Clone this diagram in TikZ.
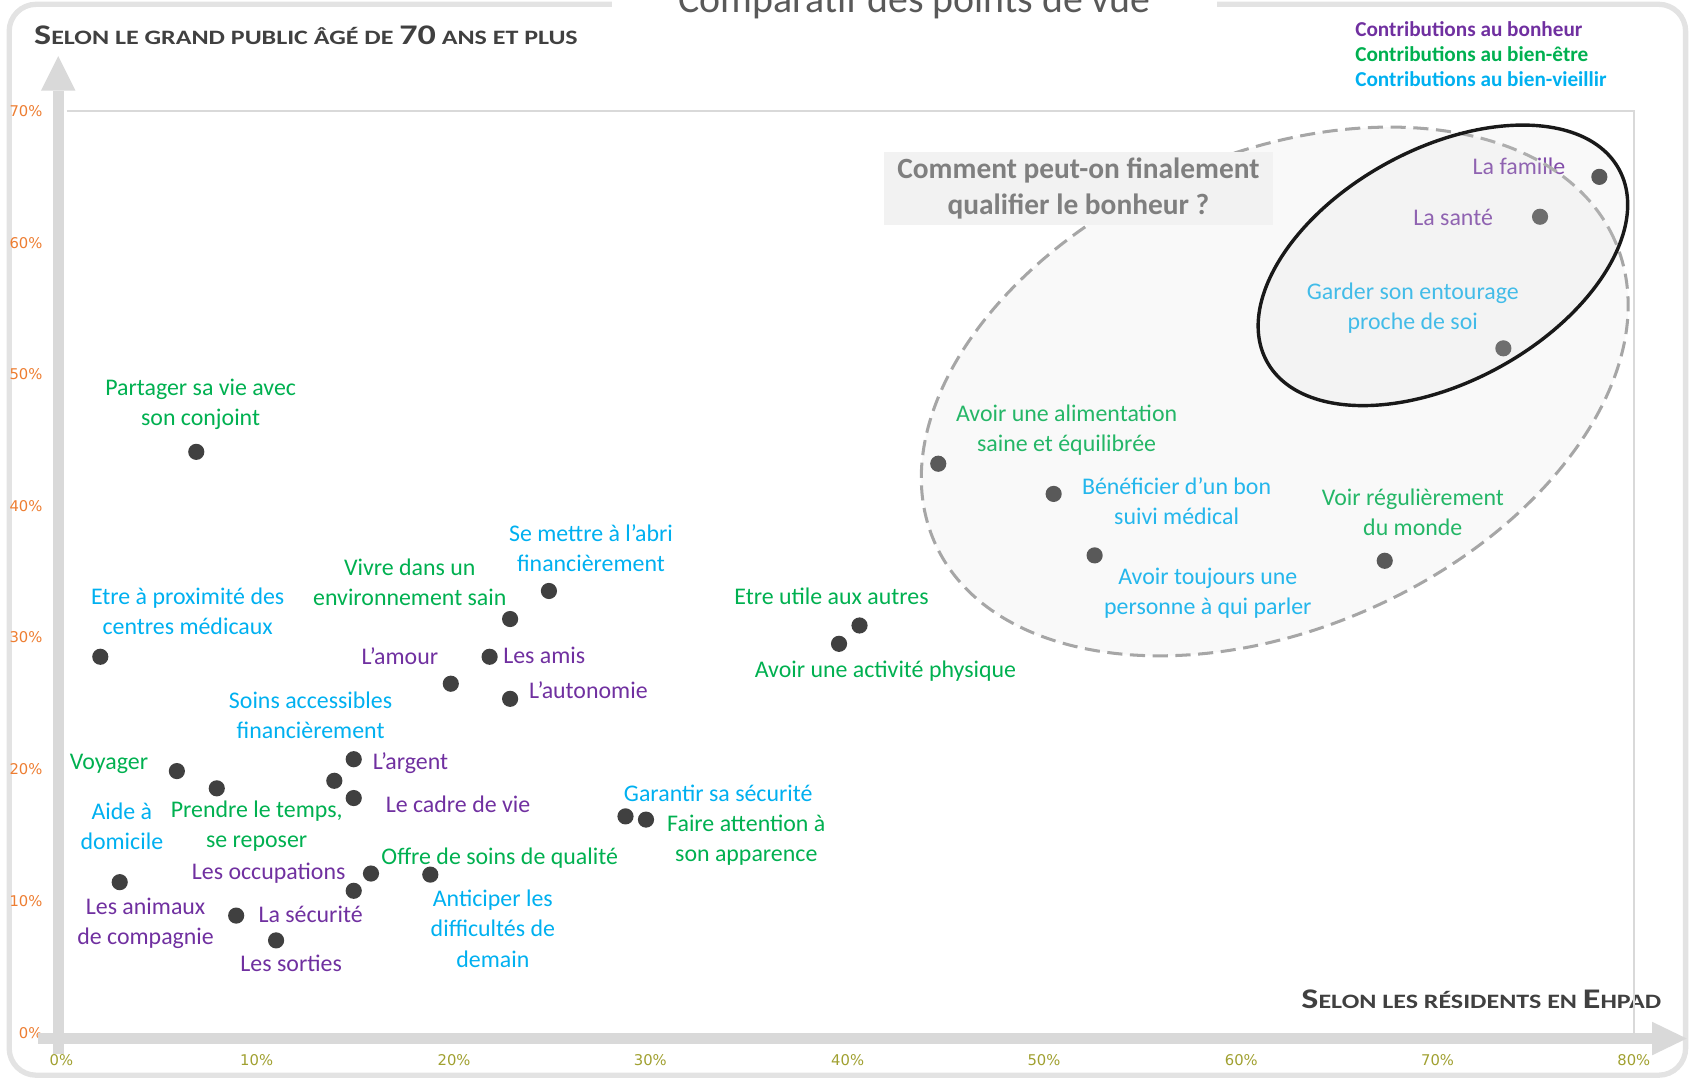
\documentclass[tikz,border=0pt]{standalone}
\usepackage{fontspec}
\setmainfont{Carlito}
\newfontfamily\axisfont{Carlito}[FakeStretch=1.27]
\newfontfamily\tickfont{DejaVu Sans}
\usetikzlibrary{arrows.meta}
\definecolor{bonheurc}{HTML}{7030A0}
\definecolor{bienetrec}{HTML}{00B050}
\definecolor{vieilc}{HTML}{00B0F0}
\definecolor{dotgray}{HTML}{404040}
\definecolor{framegray}{HTML}{E3E3E3}
\definecolor{axisgray}{HTML}{D9D9D9}
\definecolor{titlegray}{HTML}{595959}
\definecolor{boxgray}{HTML}{F2F2F2}
\definecolor{boxtext}{HTML}{7F7F7F}
\definecolor{ytickc}{HTML}{ED7D31}
\definecolor{xtickc}{HTML}{A0A030}
\newcommand{\capl}[1]{{\fontsize{7.5}{8}\selectfont #1}}

\begin{document}
\begin{tikzpicture}[
  pnt/.style={circle, fill=dotgray, inner sep=0pt, minimum size=0.15cm},
  lab/.style={inner sep=0pt, align=center, font=\fontsize{6.3}{8}\selectfont},
  bonh/.style={lab, text=bonheurc},
  bet/.style={lab, text=bienetrec},
  bvi/.style={lab, text=vieilc},
  ytk/.style={anchor=east, inner sep=0pt, text=ytickc, font=\tickfont\fontsize{3.9}{4}\selectfont},
  xtk/.style={inner sep=0pt, text=xtickc, font=\tickfont\fontsize{3.9}{4}\selectfont},
  axtitle/.style={inner sep=0pt, text=dotgray, font=\axisfont\bfseries\fontsize{5.4}{6}\selectfont},
  legd/.style={anchor=base west, inner sep=0pt, font=\bfseries\fontsize{5.6}{6.4}\selectfont}
]
\clip (0,0) rectangle (15.68,10.02);

\draw[framegray, line width=1.4pt, rounded corners=0.25cm] (0.085,0.05) rectangle (15.63,9.98);
\node[fill=white, minimum width=5.61cm, inner sep=1pt, anchor=base, text=titlegray, font=\fontsize{10.5}{12}\selectfont] (title) at (8.48,9.90) {Comparatif des points de vue};

\node[axtitle, anchor=base west] (ytitle) at (0.31,9.61) {\capl{S}ELON LE GRAND PUBLIC ÂGÉ DE \capl{70} ANS ET PLUS};
\node[axtitle, anchor=base east] (xtitle) at (15.41,0.67) {\capl{S}ELON LES RÉSIDENTS EN \capl{E}HPAD};

\node[legd, text=bonheurc] (leg1) at (12.56,9.68) {Contributions au bonheur};
\node[legd, text=bienetrec] (leg2) at (12.56,9.45) {Contributions au bien-être};
\node[legd, text=vieilc] (leg3) at (12.56,9.22) {Contributions au bien-vieillir};

\coordinate (ptl) at (0.62,8.99);
\coordinate (ptr) at (15.15,8.99);
\coordinate (pbr) at (15.15,0.39);
\draw[axisgray, line width=0.5pt] (ptl) -- (ptr) -- (pbr);

\node[ytk] (y70) at (0.40,8.99) {70\%};
\node[ytk] (y60) at (0.40,7.77) {60\%};
\node[ytk] (y50) at (0.40,6.55) {50\%};
\node[ytk] (y40) at (0.40,5.33) {40\%};
\node[ytk] (y30) at (0.40,4.11) {30\%};
\node[ytk] (y20) at (0.40,2.89) {20\%};
\node[ytk] (y10) at (0.40,1.66) {10\%};
\node[ytk] (y0) at (0.40,0.44) {0\%};

\node[xtk] (x0) at (0.57,0.19) {0\%};
\node[xtk] (x10) at (2.38,0.19) {10\%};
\node[xtk] (x20) at (4.21,0.19) {20\%};
\node[xtk] (x30) at (6.03,0.19) {30\%};
\node[xtk] (x40) at (7.86,0.19) {40\%};
\node[xtk] (x50) at (9.68,0.19) {50\%};
\node[xtk] (x60) at (11.51,0.19) {60\%};
\node[xtk] (x70) at (13.33,0.19) {70\%};
\node[xtk] (x80) at (15.15,0.19) {80\%};

\coordinate (ybot) at (0.54,0.25);
\coordinate (ytop) at (0.54,9.50);
\coordinate (xleft) at (0.35,0.39);
\coordinate (xright) at (15.64,0.39);
\draw[axisgray, line width=1mm, -{Triangle[length=3.2mm, width=3.2mm, line width=0pt]}] (ybot) -- (ytop);
\draw[axisgray, line width=1mm, -{Triangle[length=3.2mm, width=3.1mm, line width=0pt]}] (xleft) -- (xright);

\node[pnt] (famille) at (14.83,8.38) {};
\node[bonh, anchor=east] (lfamille) at (14.52,8.48) {La famille};
\node[pnt] (sante) at (14.28,8.01) {};
\node[bonh, anchor=east] (lsante) at (13.85,8.00) {La santé};
\node[pnt] (amour) at (4.18,3.68) {};
\node[bonh, anchor=east] (lamour) at (4.07,3.94) {L’amour};
\node[pnt] (amis) at (4.54,3.93) {};
\node[bonh, anchor=west] (lamis) at (4.66,3.94) {Les amis};
\node[pnt] (autonomie) at (4.73,3.54) {};
\node[bonh, anchor=west] (lautonomie) at (4.90,3.62) {L’autonomie};
\node[pnt] (argent) at (3.28,2.98) {};
\node[bonh, anchor=west] (largent) at (3.45,2.94) {L’argent};
\node[pnt] (cadre) at (3.28,2.62) {};
\node[bonh, anchor=west] (lcadre) at (3.57,2.56) {Le cadre de vie};
\node[pnt] (occup) at (3.28,1.76) {};
\node[bonh, anchor=east] (loccup) at (3.21,1.92) {Les occupations};
\node[bonh] (lanimaux) at (1.35,1.46) {Les animaux\\de compagnie};
\node[pnt] (securite) at (2.19,1.53) {};
\node[bonh, anchor=west] (lsecurite) at (2.39,1.54) {La sécurité};
\node[pnt] (sorties) at (2.56,1.30) {};
\node[bonh] (lsorties) at (2.70,1.09) {Les sorties};

\node[pnt] (conjoint) at (1.82,5.83) {};
\node[bet] (lconjoint) at (1.86,6.27) {Partager sa vie avec\\son conjoint};
\node[pnt] (envsain) at (4.73,4.28) {};
\node[bet] (lenvsain) at (3.80,4.62) {Vivre dans un\\environnement sain};
\node[pnt] (utile) at (7.97,4.22) {};
\node[bet] (lutile) at (7.71,4.49) {Etre utile aux autres};
\node[pnt] (activite) at (7.78,4.05) {};
\node[bet] (lactivite) at (8.21,3.80) {Avoir une activité physique};
\node[pnt] (alim) at (8.70,5.72) {};
\node[bet] (lalim) at (9.89,6.03) {Avoir une alimentation\\saine et équilibrée};
\node[pnt] (monde) at (12.84,4.82) {};
\node[bet] (lmonde) at (13.10,5.27) {Voir régulièrement\\du monde};
\node[pnt] (voyager) at (1.64,2.87) {};
\node[bet, anchor=east] (lvoyager) at (1.38,2.94) {Voyager};
\node[pnt] (repos) at (2.01,2.71) {};
\node[bet] (lrepos) at (2.38,2.36) {Prendre le temps,\\se reposer};
\node[pnt] (offre) at (3.44,1.92) {};
\node[bet, anchor=west] (loffre) at (3.53,2.06) {Offre de soins de qualité};
\node[pnt] (apparence) at (5.99,2.42) {};
\node[bet] (lapparence) at (6.92,2.23) {Faire attention à\\son apparence};

\node[pnt] (entourage) at (13.94,6.79) {};
\node[bvi] (lentourage) at (13.10,7.16) {Garder son entourage\\proche de soi};
\node[pnt] (suivi) at (9.77,5.44) {};
\node[bvi] (lsuivi) at (10.91,5.37) {Bénéficier d’un bon\\suivi médical};
\node[pnt] (parler) at (10.15,4.87) {};
\node[bvi] (lparler) at (11.20,4.52) {Avoir toujours une\\personne à qui parler};
\node[pnt] (abri) at (5.09,4.54) {};
\node[bvi] (labri) at (5.48,4.94) {Se mettre à l’abri\\financièrement};
\node[pnt] (proxmed) at (0.93,3.93) {};
\node[bvi] (lproxmed) at (1.74,4.35) {Etre à proximité des\\centres médicaux};
\node[pnt] (soinsacc) at (3.10,2.78) {};
\node[bvi] (lsoinsacc) at (2.88,3.39) {Soins accessibles\\financièrement};
\node[pnt] (domicile) at (1.11,1.84) {};
\node[bvi] (ldomicile) at (1.13,2.36) {Aide à\\domicile};
\node[pnt] (garantir) at (5.80,2.45) {};
\node[bvi] (lgarantir) at (6.66,2.66) {Garantir sa sécurité};
\node[pnt] (anticiper) at (3.99,1.91) {};
\node[bvi] (lanticiper) at (4.57,1.41) {Anticiper les\\difficultés de\\demain};

\coordinate (cloud) at (11.82,6.39);
\draw[gray!70, line width=0.8pt, dash pattern=on 4pt off 2pt, fill=black!15, fill opacity=0.17, rotate around={24:(cloud)}] (cloud) ellipse (3.45cm and 2.20cm);

\node[fill=boxgray, text=boxtext, font=\bfseries\fontsize{7.75}{9.4}\selectfont, align=center, minimum width=3.6cm, minimum height=0.68cm, inner sep=0pt] (question) at (10.00,8.27) {Comment peut-on finalement\\qualifier le bonheur~?};

\coordinate (core) at (13.38,7.56);
\draw[black!90, line width=0.9pt, fill=black!15, fill opacity=0.17, rotate around={28.6:(core)}] (core) ellipse (1.86cm and 1.08cm);
\end{tikzpicture}
\end{document}
